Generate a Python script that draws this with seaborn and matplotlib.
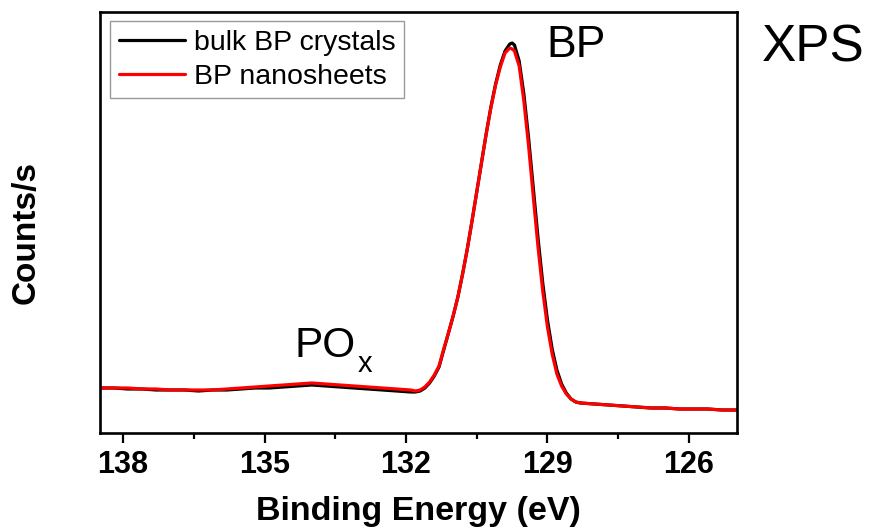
import matplotlib
matplotlib.use("Agg")
import matplotlib.pyplot as plt
from matplotlib.ticker import MultipleLocator
import seaborn as sns
import pandas as pd

# ---- data ----
binding_energy = [138.5, 138.2, 137.9, 137.6, 137.3, 137.0, 136.7, 136.4, 136.1, 135.8,
                  135.5, 135.2, 134.9, 134.6, 134.3, 134.0, 133.7, 133.4, 133.1, 132.8,
                  132.5, 132.2, 131.9, 131.8, 131.7, 131.6, 131.5, 131.4, 131.3, 131.2,
                  131.1, 131.0, 130.9, 130.8, 130.7, 130.6, 130.5, 130.4, 130.3, 130.2,
                  130.1, 130.0, 129.9, 129.8, 129.75, 129.7, 129.6, 129.5, 129.4, 129.3,
                  129.2, 129.1, 129.0, 128.9, 128.8, 128.7, 128.6, 128.5, 128.4, 128.3,
                  128.0, 127.7, 127.4, 127.1, 126.8, 126.5, 126.2, 125.9, 125.6, 125.3,
                  125.0]

bulk_counts = [4500, 4500, 4400, 4400, 4300, 4300, 4300, 4200, 4300, 4300,
               4400, 4500, 4500, 4600, 4700, 4800, 4700, 4600, 4500, 4400,
               4300, 4200, 4100, 4100, 4200, 4500, 5000, 5700, 6600, 8300,
               10000, 11700, 13600, 15900, 18400, 21200, 24100, 27000, 29900, 32600,
               34900, 36800, 38200, 38900, 39000, 38800, 37200, 33900, 29500, 24500,
               19500, 15000, 11300, 8400, 6300, 4900, 4000, 3400, 3100, 3000,
               2900, 2800, 2700, 2600, 2500, 2500, 2400, 2400, 2400, 2300,
               2300]

nano_counts = [4500, 4500, 4500, 4400, 4400, 4300, 4300, 4300, 4300, 4400,
               4500, 4600, 4700, 4800, 4900, 5000, 4900, 4800, 4700, 4600,
               4500, 4400, 4300, 4200, 4300, 4600, 5100, 5800, 6700, 8400,
               10000, 11700, 13600, 15900, 18400, 21200, 24100, 27000, 29900, 32500,
               34800, 36600, 38000, 38500, 38400, 38200, 36700, 33200, 28700, 23600,
               18600, 14200, 10600, 7900, 5900, 4700, 3900, 3400, 3100, 3000,
               2900, 2800, 2700, 2600, 2500, 2500, 2400, 2400, 2400, 2300,
               2300]

series_labels = ["bulk BP crystals", "BP nanosheets"]
series_colors = ["#000000", "#ff0000"]
x_ticks = [138, 135, 132, 129, 126]

df = pd.DataFrame({
    "Binding Energy (eV)": binding_energy * 2,
    "Counts/s": bulk_counts + nano_counts,
    "sample": [series_labels[0]] * len(binding_energy) + [series_labels[1]] * len(binding_energy),
})

sns.set_style("white")
plt.rcParams["font.family"] = ["Liberation Sans", "DejaVu Sans"]
plt.rcParams["text.color"] = "black"
plt.rcParams["axes.labelcolor"] = "black"
plt.rcParams["xtick.color"] = "black"
plt.rcParams["ytick.color"] = "black"

fig = plt.figure(figsize=(8.7, 5.28), dpi=100)
ax = fig.add_axes([100 / 870, 1 - 433 / 528, 637 / 870, 421 / 528])

sns.lineplot(data=df, x="Binding Energy (eV)", y="Counts/s", hue="sample",
             hue_order=series_labels, palette=series_colors, linewidth=2.3,
             sort=False, ax=ax)

ax.set_xlim(138.49, 124.98)
ax.set_ylim(0, 42100)

for sp in ax.spines.values():
    sp.set_visible(True)
    sp.set_color("black")
    sp.set_linewidth(1.9)

ax.xaxis.set_major_locator(MultipleLocator(3))
ax.xaxis.set_minor_locator(MultipleLocator(1.5))
ax.set_xticks(x_ticks)
ax.set_xticklabels([str(t) for t in x_ticks])
ax.tick_params(axis="x", which="major", direction="out", length=7.5, width=1.6,
               bottom=True, top=False, pad=5, labelsize=22, colors="black",
               labelcolor="black")
ax.tick_params(axis="x", which="minor", direction="out", length=4.5, width=1.6,
               bottom=True, top=False, colors="black")
for lbl in ax.get_xticklabels():
    lbl.set_fontweight("bold")
    lbl.set_color("black")
ax.tick_params(axis="y", left=False, right=False, labelleft=False)
ax.set_yticks([])

ax.set_xlabel("Binding Energy (eV)", fontsize=24.5, fontweight="bold",
              labelpad=11, color="black")
ax.set_ylabel("Counts/s", fontsize=24, fontweight="bold", color="black")
ax.yaxis.set_label_coords(-0.091, 0.477)

leg = ax.legend(loc="upper left", bbox_to_anchor=(0.0157, 0.9786), borderaxespad=0,
                fontsize=20.5, frameon=True, fancybox=False, handlelength=2.35,
                handletextpad=0.3, labelspacing=0.28, borderpad=0.3, title=None)
leg.get_frame().set_edgecolor("#808080")
leg.get_frame().set_linewidth(1.0)
for line in leg.get_lines():
    line.set_linewidth(2.3)
for t in leg.get_texts():
    t.set_color("black")

ax.text(0.747, 0.9216, "BP", transform=ax.transAxes, fontsize=32,
        ha="center", va="center", color="black")
ax.text(0.306, 0.1805, "PO", transform=ax.transAxes, fontsize=30.5,
        ha="left", va="baseline", color="black")
ax.text(0.405, 0.145, "x", transform=ax.transAxes, fontsize=21,
        ha="left", va="baseline", color="black")
fig.text(0.935, 1 - 62 / 528, "XPS", fontsize=37, ha="center", va="baseline",
         color="black")

fig.savefig("out.png", dpi=100)
